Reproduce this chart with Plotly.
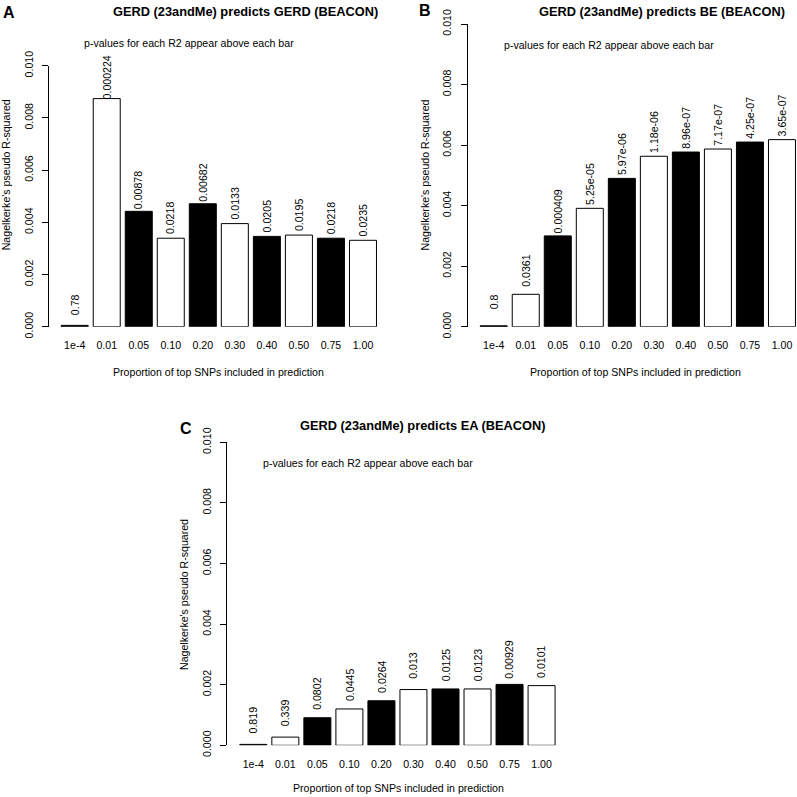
import plotly.graph_objects as go

categories = ["1e-4", "0.01", "0.05", "0.10", "0.20", "0.30", "0.40", "0.50", "0.75", "1.00"]

r2_gerd = [0.00005, 0.00874, 0.00442, 0.00339, 0.00471, 0.00395, 0.00346, 0.00351, 0.00339, 0.00331]
p_gerd = ["0.78", "0.000224", "0.00878", "0.0218", "0.00682", "0.0133", "0.0205", "0.0195", "0.0218", "0.0235"]

r2_be = [0.00003, 0.00107, 0.00300, 0.00391, 0.00490, 0.00563, 0.00577, 0.00587, 0.00610, 0.00618]
p_be = ["0.8", "0.0361", "0.000409", "5.25e-05", "5.97e-06", "1.18e-06", "8.96e-07", "7.17e-07", "4.25e-07", "3.65e-07"]

r2_ea = [0.00003, 0.00027, 0.00091, 0.00120, 0.00147, 0.00184, 0.00186, 0.00186, 0.00201, 0.00197]
p_ea = ["0.819", "0.339", "0.0802", "0.0445", "0.0264", "0.013", "0.0125", "0.0123", "0.00929", "0.0101"]

titles = ["GERD (23andMe) predicts GERD (BEACON)",
          "GERD (23andMe) predicts BE (BEACON)",
          "GERD (23andMe) predicts EA (BEACON)"]
letters = ["A", "B", "C"]
subtitle = "p-values for each R2 appear above each bar"
ylab = "Nagelkerke's pseudo R-squared"
xlab = "Proportion of top SNPs included in prediction"
yticks = [0.000, 0.002, 0.004, 0.006, 0.008, 0.010]

W = 797
FONT = "Liberation Sans, Arial, sans-serif"
bar_colors = ["black" if i % 2 == 0 else "white" for i in range(len(categories))]

panels = [
    dict(r2=r2_gerd, p=p_gerd, xdom=(49, 390), xr=(-0.802, 9.844), ydom=(326.7, 65.7),
         title=(245.5, 11.7), letter=(9.2, 12), sub=(189, 43.3), ylab=(6.3, 175), xlab=(218.3, 371.7)),
    dict(r2=r2_be, p=p_be, xdom=(467.7, 797), xr=(-0.812, 9.469), ydom=(326.7, 24),
         title=(661.7, 11.7), letter=(425, 11), sub=(608.8, 45), ylab=(424.5, 175), xlab=(635, 371.7)),
    dict(r2=r2_ea, p=p_ea, xdom=(227.3, 568), xr=(-0.812, 9.825), ydom=(745.3, 442.3),
         title=(423.3, 425), letter=(186, 428.5), sub=(368, 463.3), ylab=(184, 595), xlab=(398, 788)),
]

def px(x):
    return x / W

def py(y):
    return 1 - y / W

fig = go.Figure()
annotations = []
layout_axes = {}

for k, pnl in enumerate(panels):
    n = "" if k == 0 else str(k + 1)
    xa, ya = "x" + n, "y" + n
    fig.add_trace(go.Bar(
        x=list(range(len(categories))), y=pnl["r2"], xaxis=xa, yaxis=ya,
        marker=dict(color=bar_colors, line=dict(color="black", width=1)),
        showlegend=False, hoverinfo="skip"))
    layout_axes["xaxis" + n] = dict(
        domain=[px(pnl["xdom"][0]), px(pnl["xdom"][1])], range=list(pnl["xr"]),
        anchor=ya, tickmode="array", tickvals=list(range(len(categories))), ticktext=categories,
        showline=False, showgrid=False, zeroline=False, ticks="", ticklabelstandoff=11,
        automargin=False,
        tickfont=dict(family=FONT, size=10.6, color="black"), fixedrange=True)
    layout_axes["yaxis" + n] = dict(
        domain=[py(pnl["ydom"][0]), py(pnl["ydom"][1])], range=[0, 0.010],
        anchor=xa, tickmode="array", tickvals=yticks, ticktext=[f"{v:.3f}" for v in yticks],
        showline=True, linecolor="black", linewidth=1, ticks="outside", ticklen=6,
        tickcolor="black", tickwidth=1, tickangle=-90, ticklabelstandoff=5,
        showgrid=False, zeroline=False, automargin=False,
        tickfont=dict(family=FONT, size=10.6, color="black"), fixedrange=True)
    # p-value labels above bars
    for i, (v, lab) in enumerate(zip(pnl["r2"], pnl["p"])):
        annotations.append(dict(x=i, y=v + 0.0008, xref=xa, yref=ya, text=lab, showarrow=False,
                                textangle=-90, xanchor="center", yanchor="middle",
                                font=dict(family=FONT, size=10.6, color="black")))
    annotations.append(dict(x=px(pnl["title"][0]), y=py(pnl["title"][1]), xref="paper", yref="paper",
                            text="<b>" + titles[k] + "</b>", showarrow=False, xanchor="center",
                            yanchor="middle", font=dict(family=FONT, size=12.8, color="black")))
    annotations.append(dict(x=px(pnl["letter"][0]), y=py(pnl["letter"][1]), xref="paper", yref="paper",
                            text="<b>" + letters[k] + "</b>", showarrow=False, xanchor="center",
                            yanchor="middle", font=dict(family=FONT, size=16, color="black")))
    annotations.append(dict(x=px(pnl["sub"][0]), y=py(pnl["sub"][1]), xref="paper", yref="paper",
                            text=subtitle, showarrow=False, xanchor="center", yanchor="middle",
                            font=dict(family=FONT, size=10.6, color="black")))
    annotations.append(dict(x=px(pnl["ylab"][0]), y=py(pnl["ylab"][1]), xref="paper", yref="paper",
                            text=ylab, showarrow=False, textangle=-90, xanchor="center", yanchor="middle",
                            font=dict(family=FONT, size=10.6, color="black")))
    annotations.append(dict(x=px(pnl["xlab"][0]), y=py(pnl["xlab"][1]), xref="paper", yref="paper",
                            text=xlab, showarrow=False, xanchor="center", yanchor="middle",
                            font=dict(family=FONT, size=10.6, color="black")))

fig.update_layout(
    width=W, height=W, margin=dict(l=0, r=0, t=0, b=0, pad=0, autoexpand=False),
    paper_bgcolor="white", plot_bgcolor="white", bargap=0.157,
    annotations=annotations, **layout_axes)

fig.write_html("out.html", config={"displayModeBar": False, "staticPlot": True},
               post_script="document.body.style.margin='0';")
